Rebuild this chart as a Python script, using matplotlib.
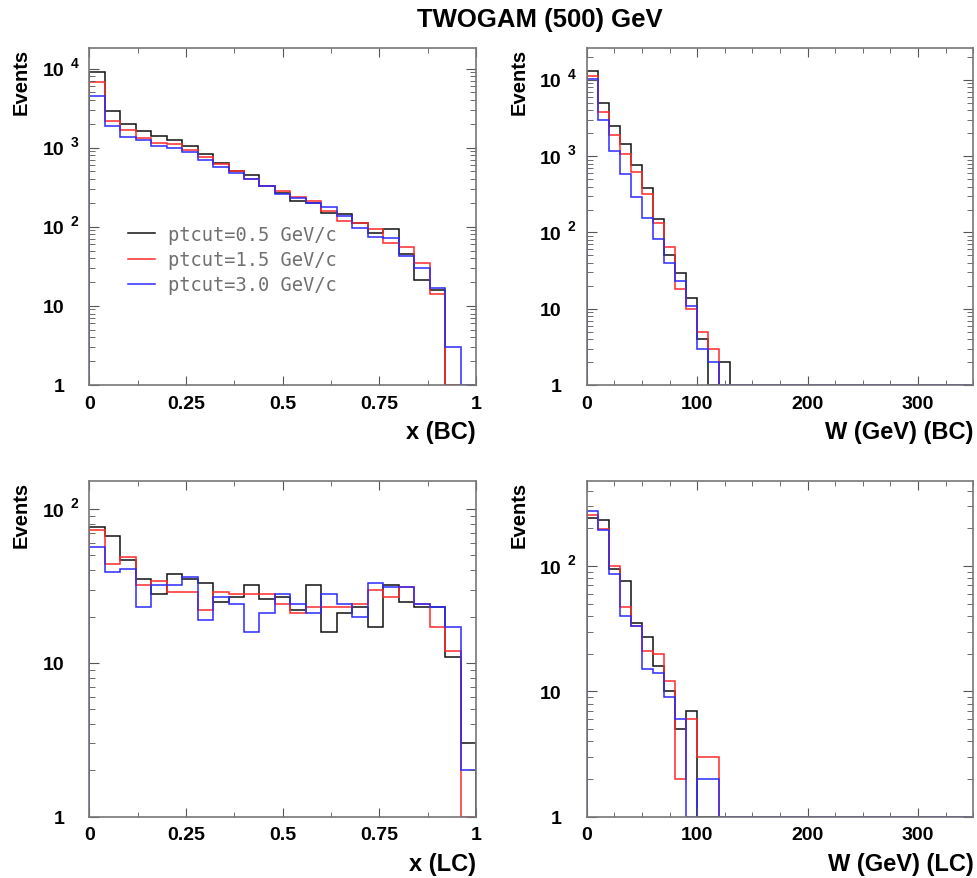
import numpy as np
import matplotlib.pyplot as plt
from matplotlib.ticker import FixedLocator, LogLocator, MultipleLocator, FuncFormatter, NullFormatter

plt.rcParams['font.family'] = 'Liberation Sans'
plt.rcParams['font.weight'] = 'bold'

# bin edges
x_edges = np.linspace(0, 1, 26)
w_edges = np.arange(0, 351, 10)

labels = ['ptcut=0.5 GeV/c', 'ptcut=1.5 GeV/c', 'ptcut=3.0 GeV/c']
colors = ['#111111', '#ff2a2a', '#2a2aff']

# x (BC)
x_bc_05 = [9100, 2900, 2000, 1600, 1420, 1250, 1040, 830, 635, 500, 450, 325, 265,
           214, 202, 148, 144, 113, 83, 94, 45, 21, 16, 0, 0]
x_bc_15 = [6850, 2200, 1660, 1315, 1160, 1115, 946, 757, 629, 504, 403, 325, 284,
           238, 214, 156, 119, 113, 94, 63, 56, 35, 14, 0, 0]
x_bc_30 = [4510, 1850, 1370, 1240, 1050, 990, 884, 700, 576, 484, 399, 325, 263,
           234, 202, 178, 137, 97, 75, 72, 43, 30, 17, 3, 0]

# W (BC)
w_bc_05 = [13100, 5000, 2470, 1430, 770, 380, 148, 50, 29, 14, 4, 0, 2, 0, 1, 0, 0, 0,
           0, 0, 0, 0, 0, 0, 0, 0, 0, 0, 0, 0, 0, 0, 0, 0, 0]
w_bc_15 = [11100, 3840, 1880, 1080, 630, 320, 135, 65, 18, 10, 5, 3, 0, 0, 1, 0, 0, 0,
           0, 0, 0, 0, 0, 0, 0, 0, 0, 0, 0, 0, 0, 0, 0, 0, 0]
w_bc_30 = [10400, 3000, 1180, 580, 290, 154, 82, 40, 23, 11, 3, 2, 0, 0, 0, 0, 0, 0,
           0, 0, 0, 0, 0, 0, 0, 0, 0, 0, 0, 0, 0, 0, 0, 0, 0]

# x (LC)
x_lc_05 = [76, 67, 47, 35, 28, 38, 35, 33, 25, 27, 32, 26, 27, 22, 32, 16, 21, 23, 17,
           32, 25, 23, 23, 11, 3]
x_lc_15 = [73, 44, 49, 32, 34, 29, 29, 22, 29, 28, 28, 28, 24, 21, 23, 23, 23, 24, 30,
           27, 31, 24, 17, 12, 0]
x_lc_30 = [57, 39, 41, 23, 32, 32, 36, 19, 27, 24, 16, 21, 28, 24, 21, 28, 24, 20, 33,
           31, 31, 24, 23, 17, 2]

# W (LC)
w_lc_05 = [242, 234, 95, 76, 35, 27, 16, 10, 5, 7, 0, 0, 0, 0, 0, 0, 0, 0,
           0, 0, 0, 0, 0, 0, 0, 0, 0, 0, 0, 0, 0, 0, 0, 0, 0]
w_lc_15 = [257, 197, 100, 47, 33, 21, 20, 12, 2, 6, 3, 3, 1, 0, 0, 0, 0, 0,
           0, 0, 0, 0, 0, 0, 0, 0, 0, 0, 0, 0, 0, 0, 0, 0, 0]
w_lc_30 = [273, 193, 87, 40, 33, 15, 14, 9, 6, 0, 2, 2, 0, 0, 0, 0, 0, 0,
           0, 0, 0, 0, 0, 0, 0, 0, 0, 0, 0, 0, 0, 0, 0, 0, 0]

PX = 72 / 100  # points per pixel


def draw_panel(ax, edges, series, ymax, major, minor, xlabel):
    for vals, c, lab in zip(series, colors, labels):
        v = np.clip(np.array(vals, dtype=float), 1, None)
        ax.stairs(v, edges, baseline=1, color=c, lw=1.1, label=lab)
    ax.set_yscale('log')
    ax.set_xlim(edges[0], edges[-1])
    ax.set_ylim(1, ymax)
    for s in ax.spines.values():
        s.set_color('#777777')
        s.set_linewidth(1.2)
    ax.xaxis.set_major_locator(MultipleLocator(major))
    ax.xaxis.set_minor_locator(MultipleLocator(minor))
    ax.xaxis.set_major_formatter(FuncFormatter(lambda v, p: '%g' % v))
    decades = [10 ** k for k in range(0, 6) if 10 ** k <= ymax]
    ax.yaxis.set_major_locator(FixedLocator(decades))
    ax.yaxis.set_minor_locator(LogLocator(base=10, subs=np.arange(2, 10)))
    ax.yaxis.set_minor_formatter(NullFormatter())
    ax.set_yticklabels(['1' if d == 1 else '10' for d in decades])
    ax.tick_params(which='both', direction='in', top=True, right=True,
                   color='#555555', labelsize=14)
    ax.tick_params(axis='x', which='major', length=9 * PX, pad=7)
    ax.tick_params(axis='x', which='minor', length=5 * PX)
    ax.tick_params(axis='y', which='major', length=10 * PX, pad=25 * PX)
    ax.tick_params(axis='y', which='minor', length=6 * PX)
    tr = ax.get_yaxis_transform()
    for d in decades:
        k = int(round(np.log10(d)))
        if k >= 2:
            ax.annotate(str(k), xy=(0, d), xycoords=tr, xytext=(-19 * PX, 6 * PX),
                        textcoords='offset points', ha='left', va='center', fontsize=10)
    ax.annotate(xlabel, xy=(1, 0), xycoords='axes fraction', xytext=(0, -47 * PX),
                textcoords='offset points', ha='right', va='center', fontsize=17)
    ax.annotate('Events', xy=(0, 1), xycoords='axes fraction', xytext=(-68 * PX, 0),
                textcoords='offset points', ha='center', va='top', rotation=90, fontsize=14.5)


fig = plt.figure(figsize=(9.77, 8.79), dpi=100)
ax1 = fig.add_axes([0.0914, 0.5609, 0.3958, 0.3830])
ax2 = fig.add_axes([0.6005, 0.5609, 0.3957, 0.3830])
ax3 = fig.add_axes([0.0914, 0.0697, 0.3958, 0.3823])
ax4 = fig.add_axes([0.6005, 0.0697, 0.3957, 0.3823])

draw_panel(ax1, x_edges, [x_bc_05, x_bc_15, x_bc_30], 1.8e4, 0.25, 0.125, 'x (BC)')
draw_panel(ax2, w_edges, [w_bc_05, w_bc_15, w_bc_30], 2.6e4, 100, 25, 'W (GeV) (BC)')
draw_panel(ax3, x_edges, [x_lc_05, x_lc_15, x_lc_30], 153, 0.25, 0.125, 'x (LC)')
draw_panel(ax4, w_edges, [w_lc_05, w_lc_15, w_lc_30], 480, 100, 25, 'W (GeV) (LC)')

ax1.legend(loc='upper left', bbox_to_anchor=(0.10, 0.475), frameon=False,
           prop={'family': 'DejaVu Sans Mono', 'size': 13.5, 'weight': 'normal'},
           labelcolor='#707070', handlelength=1.44, handletextpad=0.69,
           labelspacing=0.33, borderpad=0, borderaxespad=0,
           handles=[plt.Line2D([], [], color=c, lw=1.1) for c in colors], labels=labels)

fig.text(540 / 977, 1 - 20 / 879, 'TWOGAM (500) GeV', ha='center', va='center', fontsize=18.5)

fig.savefig('out.png', dpi=100, facecolor='white')
